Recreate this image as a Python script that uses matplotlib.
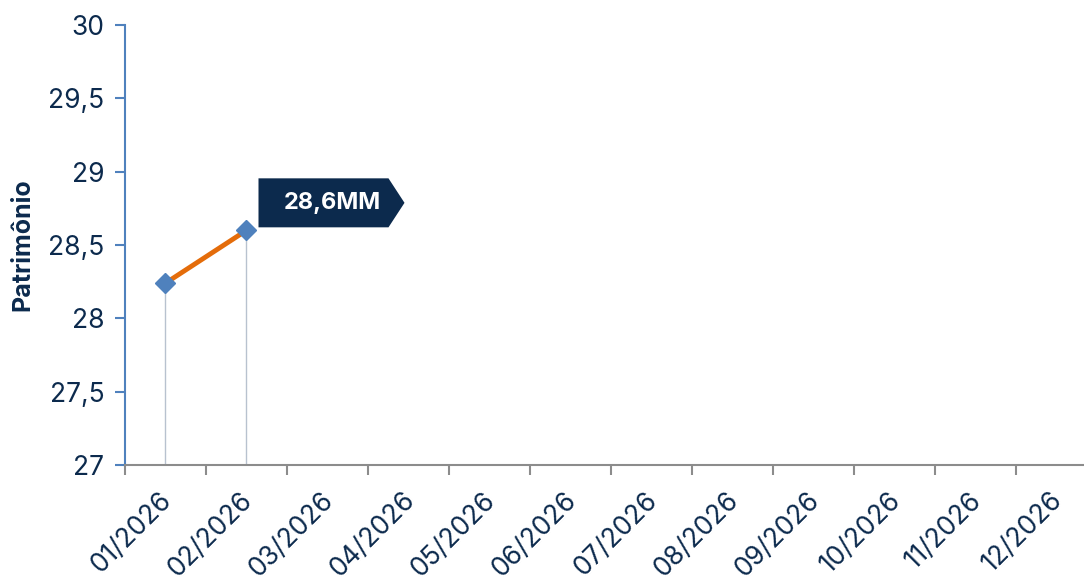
import matplotlib
matplotlib.use("Agg")
import matplotlib.pyplot as plt
import matplotlib.transforms as mtransforms
from matplotlib.patches import Polygon

plt.rcParams['font.family'] = ['Inter', 'DejaVu Sans']

# dados
meses = ['01/2026', '02/2026', '03/2026', '04/2026', '05/2026', '06/2026',
         '07/2026', '08/2026', '09/2026', '10/2026', '11/2026', '12/2026']
patrimonio = [28.24, 28.6]
rotulo = '28,6MM'
y_ticks = [27, 27.5, 28, 28.5, 29, 29.5, 30]
y_labels = ['27', '27,5', '28', '28,5', '29', '29,5', '30']

navy = '#0c2a4d'

fig = plt.figure(figsize=(10.84, 5.77), dpi=100)
ax = fig.add_axes([125 / 1084, (577 - 465) / 577, (1084 - 125) / 1084, 440 / 577])

x = list(range(len(patrimonio)))
ax.vlines(x, 27, patrimonio, color='#b8c2cf', linewidth=1, zorder=1)
ax.plot(x, patrimonio, color='#e46c0a', linewidth=3.5, zorder=2)
ax.plot(x, patrimonio, linestyle='none', marker='D', markersize=10,
        color='#4f81bd', zorder=3)

ax.set_xlim(-0.5, 11.34)
ax.set_ylim(27, 30)
ax.set_xticks([i - 0.5 for i in range(12)])
ax.set_xticklabels([])
ax.set_xticks(range(12), minor=True)
ax.set_xticklabels(meses, minor=True, rotation=45, ha='right', va='top',
                   rotation_mode='anchor', fontsize=19, color=navy)
ax.tick_params(axis='x', which='minor', length=0, pad=16)
ax.tick_params(axis='x', which='major', length=7, width=1.5, color='#8c8c8c')
desloc = mtransforms.ScaledTranslation(-7 / 100, 0, fig.dpi_scale_trans)
for lab in ax.get_xticklabels(minor=True):
    lab.set_transform(lab.get_transform() + desloc)
ax.set_yticks(y_ticks)
ax.set_yticklabels(y_labels, fontsize=19, color=navy)
ax.tick_params(axis='y', length=7, width=1.5, color='#4f81bd', pad=8)

for s in ['top', 'right']:
    ax.spines[s].set_visible(False)
ax.spines['left'].set_color('#4f81bd')
ax.spines['left'].set_linewidth(1.5)
ax.spines['bottom'].set_color('#8c8c8c')
ax.spines['bottom'].set_linewidth(1.5)

ax.set_ylabel('Patrimônio', fontsize=18, fontweight='bold', color=navy, labelpad=10)

# caixa do rótulo
px, py = x[-1], patrimonio[-1]
tr = ax.transData
x0, y0 = tr.transform((px, py))
box = [(x0 + 12, y0 + 3), (x0 + 12, y0 + 52), (x0 + 142, y0 + 52),
       (x0 + 158, y0 + 27.5), (x0 + 142, y0 + 3)]
box = [fig.transFigure.inverted().transform(p) for p in box]
fig.patches.append(Polygon(box, closed=True, facecolor=navy, edgecolor='none',
                           transform=fig.transFigure, zorder=5))
cx, cy = fig.transFigure.inverted().transform((x0 + 86, y0 + 27.5))
fig.text(cx, cy, rotulo, color='white', fontsize=17, fontweight='bold',
         ha='center', va='center', zorder=6)

fig.savefig('out.png', dpi=100)
